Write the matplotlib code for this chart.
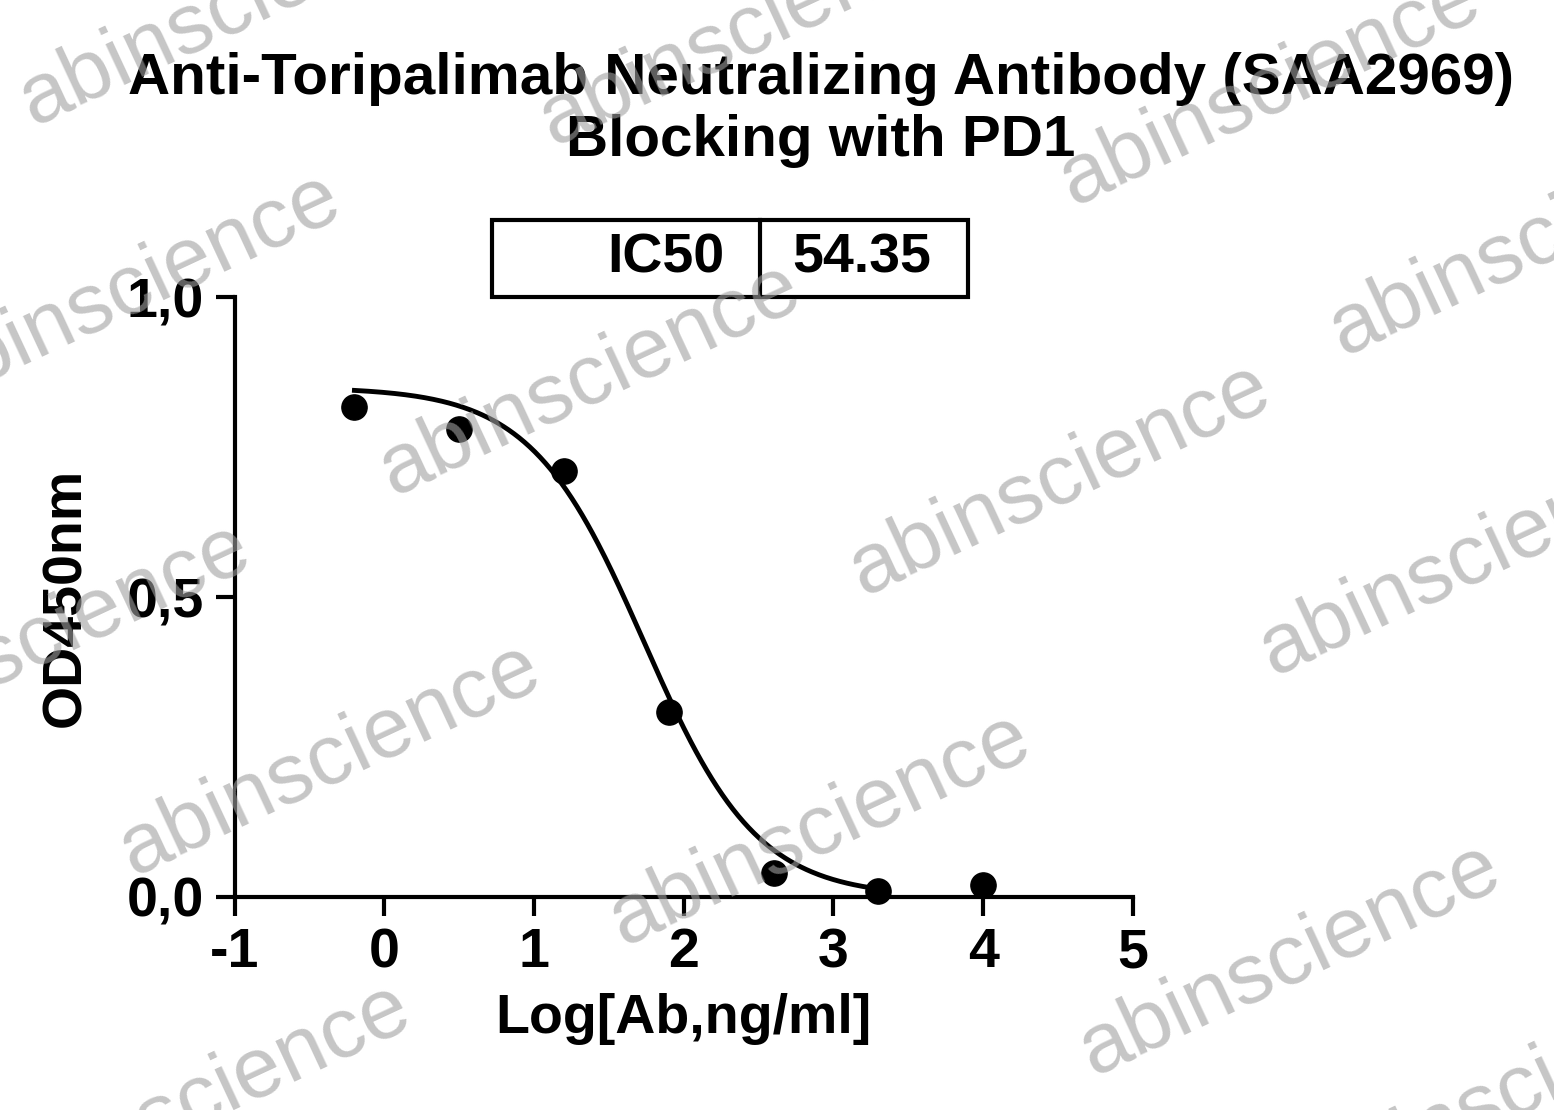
import numpy as np
import matplotlib
matplotlib.use("Agg")
import matplotlib.pyplot as plt
from matplotlib.patches import Rectangle

plt.rcParams['font.family'] = ['Liberation Sans', 'DejaVu Sans']
plt.rcParams['font.weight'] = 'bold'
plt.rcParams['axes.unicode_minus'] = False

log_conc = [-0.2, 0.5, 1.2, 1.9, 2.6, 3.3, 4.0]
od450 = [0.818, 0.78, 0.71, 0.309, 0.04, 0.01, 0.02]
top, bottom, ic50, hill = 0.85, 0.0, 54.35, 1.15
curve_range = (-0.2, 3.3)

fig = plt.figure(figsize=(15.54, 11.1), dpi=100)
ax = fig.add_axes([0.151, 0.192, 0.578, 0.540])

xs = np.linspace(*curve_range, 300)
ys = bottom + (top - bottom) / (1 + 10 ** (hill * (xs - np.log10(ic50))))
ax.plot(xs, ys, color='black', lw=3.5)
ax.scatter(log_conc, od450, s=330, color='black', zorder=3, clip_on=False)

ax.set_xlim(-1, 5)
ax.set_ylim(0, 1.0)
ax.set_xticks(range(-1, 6))
ax.set_yticks([0, 0.5, 1.0])
ax.set_yticklabels(['0,0', '0,5', '1,0'])
for s in ['top', 'right']:
    ax.spines[s].set_visible(False)
for s in ['left', 'bottom']:
    ax.spines[s].set_linewidth(3)
ax.tick_params(width=3, length=14, labelsize=40, pad=8)
for l in ax.get_xticklabels() + ax.get_yticklabels():
    l.set_fontweight('bold')
ax.set_xlabel('Log[Ab,ng/ml]', fontsize=40, fontweight='bold', labelpad=10)
ax.set_ylabel('OD450nm', fontsize=40, fontweight='bold', labelpad=25)

fig.text(0.528, 1-110/1110, 'Anti-Toripalimab Neutralizing Antibody (SAA2969)\nBlocking with PD1',
         ha='center', va='center', fontsize=42, fontweight='bold', linespacing=1.2)

# IC50 table
fig.add_artist(Rectangle((492/1554, 1-297/1110), 476/1554, 77/1110, fill=False, lw=3,
                         transform=fig.transFigure))
fig.add_artist(plt.Line2D([760/1554, 760/1554], [1-297/1110, 1-220/1110], lw=3, color='black',
                          transform=fig.transFigure))
fig.text(724/1554, 1-258/1110, 'IC50', ha='right', va='center', fontsize=40, fontweight='bold')
fig.text(862/1554, 1-258/1110, '54.35', ha='center', va='center', fontsize=40, fontweight='bold')

# watermarks
wm = [(230, 10), (750, 30), (1270, 90), (130, 290), (590, 380), (1060, 480),
      (1470, 560), (330, 760), (820, 830), (1290, 960), (40, 640), (200, 1100),
      (1540, 240), (1520, 1090)]
for x, y in wm:
    fig.text(x/1554, 1-y/1110, 'abinscience', fontsize=62, fontweight='normal', color='#a0a0a0',
             alpha=0.6, rotation=25, ha='center', va='center', zorder=10)

fig.savefig('out.png', dpi=100)
